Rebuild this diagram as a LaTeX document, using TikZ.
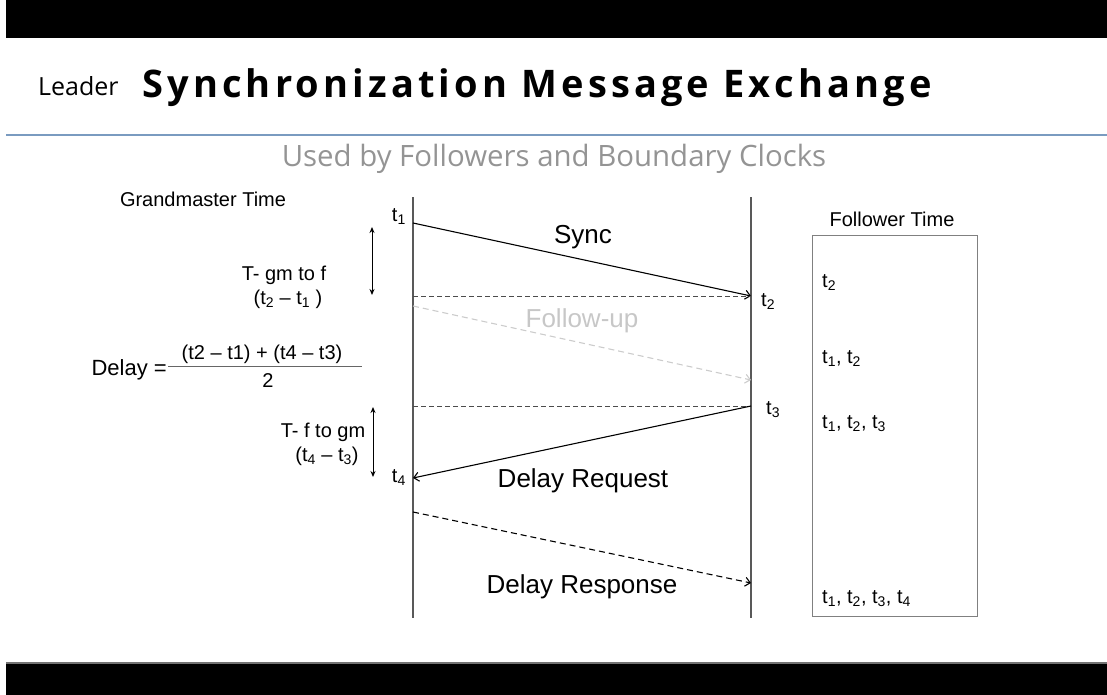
\documentclass[tikz,border=0pt]{standalone}
\usepackage{fontspec}
\setmainfont{Liberation Sans}
\newfontfamily\headfont[LetterSpace=11]{Open Sans}
\newfontfamily\logofont{Open Sans}
\newfontfamily\subfont{Open Sans}
\usetikzlibrary{arrows.meta,positioning}

\newcommand{\tsub}[1]{t\textsubscript{#1}}

\begin{document}
\begin{tikzpicture}[x=1pt, y=-1pt,
  lbl/.style = {font=\fontsize{20}{24}\selectfont, inner sep=0pt},
  msg/.style = {font=\fontsize{26}{30}\selectfont, inner sep=0pt, anchor=base},
  life/.style = {draw=black!65, line width=1.6pt},
  sent/.style = {-{Straight Barb[length=5pt, width=9pt]}, line width=1.1pt},
  levelline/.style = {dash pattern=on 5pt off 3pt, draw=black!70, line width=0.9pt},
  interval/.style = {{Stealth[length=6pt, width=5pt]}-{Stealth[length=6pt, width=5pt]}, line width=1pt}]
\useasboundingbox (0,0) rectangle (1107,695);

% bars and heading
\fill[black] (6,0) rectangle (1107,38);
\fill[black] (6,663) rectangle (1107,695);
\draw[black!55, line width=1.5pt] (6,663) -- (1107,663);
\node[font=\logofont\fontsize{25}{29}\selectfont, anchor=base west, inner sep=0pt] (leader) at (38,96) {Leader};
\node[font=\headfont\bfseries\fontsize{38}{44}\selectfont, anchor=base west, inner sep=0pt] (title) at (142,98) {Synchronization Message Exchange};
\draw[draw={rgb,255:red,122;green,155;blue,192}, line width=2pt] (6,135) -- (1107,135);
\node[font=\subfont\fontsize{29.4}{34}\selectfont, text=black!42, anchor=base, inner sep=0pt] (subtitle) at (554,167) {Used by Followers and Boundary Clocks};

% lifelines
\coordinate (gmtop) at (413,197);
\coordinate (gmbot) at (413,618);
\coordinate (fltop) at (751,197);
\coordinate (flbot) at (751,618);
\draw[life] (gmtop) -- (gmbot);
\draw[life] (fltop) -- (flbot);
\node[lbl, anchor=base] (gmtime) at (203,206) {Grandmaster Time};

% time points
\coordinate (gm1) at (413,223);
\coordinate (gm2) at (413,296);
\coordinate (fl2) at (751,296);
\coordinate (gmf) at (413,306);
\coordinate (flf) at (751,380);
\coordinate (gm3) at (413,406);
\coordinate (fl3) at (751,406);
\coordinate (gm4) at (413,478);
\coordinate (gmr) at (413,512);
\coordinate (flr) at (751,583);

\node[lbl, anchor=base east] (t1) at (406,221) {\tsub{1}};
\node[lbl, anchor=base west] (t2) at (761,306) {\tsub{2}};
\node[lbl, anchor=base west] (t3) at (766,414) {\tsub{3}};
\node[lbl, anchor=base east] (t4) at (406,482) {\tsub{4}};

% messages
\draw[sent] (gm1) -- (fl2);
\node[msg] (sync) at (583,243) {Sync};
\draw[levelline] (gm2) -- (fl2);
\draw[sent, black!20, dash pattern=on 6pt off 4pt] (gmf) -- (flf);
\node[msg, text=black!22] (followup) at (582,327) {Follow-up};
\draw[levelline] (gm3) -- (fl3);
\draw[sent] (fl3) -- (gm4);
\node[msg] (dreq) at (583,487) {Delay Request};
\draw[sent, dash pattern=on 6pt off 4pt] (gmr) -- (flr);
\node[msg] (dresp) at (582,593) {Delay Response};

% intervals
\coordinate (up1) at (372,227);
\coordinate (dn1) at (372,295);
\coordinate (up2) at (373,407);
\coordinate (dn2) at (373,477);
\draw[interval] (up1) -- (dn1);
\draw[interval] (up2) -- (dn2);
\node[lbl, anchor=base] (gmtof) at (284,280) {T- gm to f};
\node[lbl, anchor=base] (gmtofval) at (288,304) {(\tsub{2} -- \tsub{1} )};
\node[lbl, anchor=base] (ftogm) at (323,437) {T- f to gm};
\node[lbl, anchor=base] (ftogmval) at (327,461) {(\tsub{4} -- \tsub{3})};

% delay formula
\node[lbl, font=\fontsize{22}{26}\selectfont, anchor=base east] (delay) at (167,375) {Delay =};
\node[lbl, anchor=base] (num) at (262,359) {(t2 -- t1) + (t4 -- t3)};
\node[lbl, anchor=base] (den) at (268,387) {2};
\draw[black!60, line width=0.8pt] (168,366) -- (362,366);

% follower side
\node[draw=black!50, line width=0.8pt, minimum width=165pt, minimum height=381pt, inner sep=0pt] (fbox) at (894.5,425.5) {};
\node[lbl, anchor=base] (fltime) at (892,226) {Follower Time};
\node[lbl, anchor=base west] (f1) at (822,287) {\tsub{2}};
\node[lbl, anchor=base west] (f2) at (822,363) {\tsub{1}, \tsub{2}};
\node[lbl, anchor=base west] (f3) at (822,428) {\tsub{1}, \tsub{2}, \tsub{3}};
\node[lbl, anchor=base west] (f4) at (822,603) {\tsub{1}, \tsub{2}, \tsub{3}, \tsub{4}};
\end{tikzpicture}
\end{document}
